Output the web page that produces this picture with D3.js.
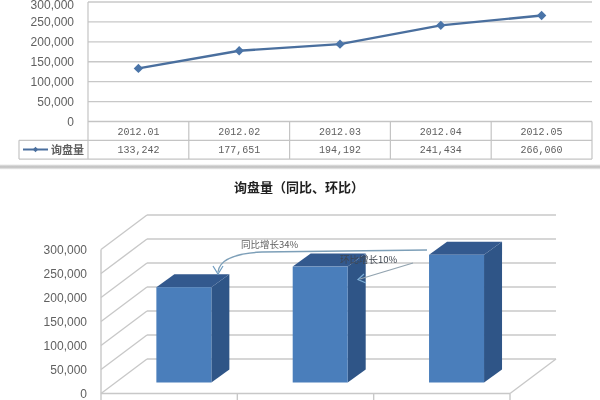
<!DOCTYPE html>
<html>
<head>
<meta charset="utf-8">
<script src="https://cdn.jsdelivr.net/npm/d3@7"></script>
<style>
html, body { margin: 0; padding: 0; background: #fff; }
svg { display: block; filter: blur(0.5px); }
text { fill: #606060; font-family: "Liberation Sans", sans-serif; }
</style>
</head>
<body>
<script>
const months = ["2012.01", "2012.02", "2012.03", "2012.04", "2012.05"];
const inquiries = [133242, 177651, 194192, 241434, 266060];
const tableValues = ["133,242", "177,651", "194,192", "241,434", "266,060"];
const seriesName = "询盘量";
const yTicks = [0, 50000, 100000, 150000, 200000, 250000, 300000];

const chartTitle = "询盘量（同比、环比）";
const barSlots = ["去年同期", "上月", "本月"];
const barValues = [198552, 241434, 266060];
const yoyNote = "同比增长34%";
const momNote = "环比增长10%";

const gridColor = "#c8c8c8";
const tableColor = "#c4c4c4";
const fmt = d3.format(",");

const svg = d3.select("body").append("svg")
    .attr("width", 600)
    .attr("height", 400);

// upper line chart with its data table
const lineX = d3.scaleBand().domain(months).range([88, 592]);
const lineY = d3.scaleLinear().domain([0, 300000]).range([121.5, 2]);
const rowH = 18.8;

const upper = svg.append("g");

upper.selectAll(".grid")
    .data(yTicks)
    .join("line")
    .attr("x1", 88)
    .attr("x2", 592)
    .attr("y1", d => lineY(d))
    .attr("y2", d => lineY(d))
    .attr("stroke", gridColor)
    .attr("stroke-width", 1.4);

// the top label sits against the page edge, keep it inside
upper.selectAll(".ylab")
    .data(yTicks)
    .join("text")
    .attr("x", 74)
    .attr("y", d => Math.max(lineY(d) + 4.5, 9))
    .attr("text-anchor", "end")
    .attr("font-size", 12)
    .text(d => fmt(d));

// table lines
const rowLines = [0, 1, 2];
upper.append("g").selectAll("line")
    .data(rowLines)
    .join("line")
    .attr("x1", d => d == 0 ? 88 : 19)
    .attr("x2", 592)
    .attr("y1", d => lineY(0) + d * rowH)
    .attr("y2", d => lineY(0) + d * rowH)
    .attr("stroke", tableColor)
    .attr("stroke-width", 1.2);

const colEdges = months.map(m => lineX(m)).concat([lineX.range()[1]]);
upper.append("g").selectAll("line")
    .data(colEdges)
    .join("line")
    .attr("x1", d => d)
    .attr("x2", d => d)
    .attr("y1", (d, i) => i == 0 ? lineY(300000) : lineY(0))
    .attr("y2", lineY(0) + 2 * rowH)
    .attr("stroke", tableColor)
    .attr("stroke-width", 1.2);

upper.append("line")
    .attr("x1", 19)
    .attr("x2", 19)
    .attr("y1", lineY(0) + rowH)
    .attr("y2", lineY(0) + 2 * rowH)
    .attr("stroke", tableColor)
    .attr("stroke-width", 1.2);

upper.append("g").selectAll("text")
    .data(months)
    .join("text")
    .attr("x", d => lineX(d) + lineX.bandwidth() / 2)
    .attr("y", lineY(0) + 13)
    .attr("text-anchor", "middle")
    .style("font-family", "Liberation Mono")
    .attr("font-size", 10)
    .text(d => d);

upper.append("g").selectAll("text")
    .data(tableValues)
    .join("text")
    .attr("x", (d, i) => lineX(months[i]) + lineX.bandwidth() / 2)
    .attr("y", lineY(0) + rowH + 13)
    .attr("text-anchor", "middle")
    .style("font-family", "Liberation Mono")
    .attr("font-size", 10)
    .text(d => d);

// legend key in the table
upper.append("line")
    .attr("x1", 23)
    .attr("x2", 48)
    .attr("y1", 149.5)
    .attr("y2", 149.5)
    .attr("stroke", "#4a6f9e")
    .attr("stroke-width", 2);

const diamond = d3.symbol().type(d3.symbolSquare);

upper.append("path")
    .attr("d", diamond.size(14)())
    .attr("transform", "translate(35.5,149.5) rotate(45)")
    .attr("fill", "#4a6f9e");

upper.append("text")
    .attr("x", 51)
    .attr("y", 154)
    .style("font-family", "Noto Sans CJK SC")
    .attr("font-size", 11)
    .attr("font-weight", "bold")
    .text(seriesName);

const line = d3.line()
    .x((d, i) => lineX(months[i]) + lineX.bandwidth() / 2)
    .y(d => lineY(d));

upper.append("path")
    .attr("d", line(inquiries))
    .attr("fill", "none")
    .attr("stroke", "#4a6f9e")
    .attr("stroke-width", 2.4);

upper.append("g").selectAll("path")
    .data(inquiries)
    .join("path")
    .attr("d", diamond.size(44)())
    .attr("transform", (d, i) => "translate(" + (lineX(months[i]) + lineX.bandwidth() / 2) + "," + lineY(d) + ") rotate(45)")
    .attr("fill", "#4a74a8");

// grey divider between the two screenshots
const grad = svg.append("defs").append("linearGradient")
    .attr("id", "divider")
    .attr("x1", 0).attr("x2", 0).attr("y1", 0).attr("y2", 1);
grad.append("stop").attr("offset", 0).attr("stop-color", "#e8e8e8");
grad.append("stop").attr("offset", 0.5).attr("stop-color", "#bdbdbd");
grad.append("stop").attr("offset", 1).attr("stop-color", "#f4f4f4");

svg.append("rect")
    .attr("x", 0)
    .attr("y", 164.5)
    .attr("width", 600)
    .attr("height", 5)
    .attr("fill", "url(#divider)");

svg.append("text")
    .attr("x", 299)
    .attr("y", 192)
    .attr("text-anchor", "middle")
    .style("font-family", "Noto Sans CJK SC")
    .attr("font-size", 13)
    .attr("font-weight", "bold")
    .style("fill", "#222")
    .text(chartTitle);

// lower pseudo 3d bar chart
const barX = d3.scaleBand().domain(barSlots).range([101, 510]);
const barY = d3.scaleLinear().domain([0, 300000]).range([393.5, 249.5]);
const wallDx = 46;
const wallDy = -34.5;
const offX = 14.7;
const offY = -11;
const barW = 55;
const depthX = 18;
const depthY = -13;

const lower = svg.append("g");

lower.append("g").selectAll("line")
    .data(yTicks)
    .join("line")
    .attr("x1", barX.range()[0] + wallDx)
    .attr("x2", barX.range()[1] + wallDx)
    .attr("y1", d => barY(d) + wallDy)
    .attr("y2", d => barY(d) + wallDy)
    .attr("stroke", gridColor)
    .attr("stroke-width", 1.6);

lower.append("g").selectAll("line")
    .data(yTicks)
    .join("line")
    .attr("x1", barX.range()[0])
    .attr("x2", barX.range()[0] + wallDx)
    .attr("y1", d => barY(d))
    .attr("y2", d => barY(d) + wallDy)
    .attr("stroke", gridColor)
    .attr("stroke-width", 1.4);

lower.append("line")
    .attr("x1", barX.range()[1])
    .attr("x2", barX.range()[1] + wallDx)
    .attr("y1", barY(0))
    .attr("y2", barY(0) + wallDy)
    .attr("stroke", gridColor)
    .attr("stroke-width", 1.4);

lower.append("line")
    .attr("x1", barX.range()[0])
    .attr("x2", barX.range()[0])
    .attr("y1", barY(300000))
    .attr("y2", 400)
    .attr("stroke", gridColor)
    .attr("stroke-width", 1.4);

lower.append("line")
    .attr("x1", barX.range()[0])
    .attr("x2", barX.range()[1])
    .attr("y1", barY(0))
    .attr("y2", barY(0))
    .attr("stroke", gridColor)
    .attr("stroke-width", 1.6);

lower.append("g").selectAll("line")
    .data(barSlots)
    .join("line")
    .attr("x1", d => barX(d) + barX.bandwidth())
    .attr("x2", d => barX(d) + barX.bandwidth())
    .attr("y1", barY(0))
    .attr("y2", 400)
    .attr("stroke", gridColor)
    .attr("stroke-width", 1.4);

lower.append("g").selectAll("text")
    .data(yTicks)
    .join("text")
    .attr("x", 87)
    .attr("y", d => barY(d) + 4.5)
    .attr("text-anchor", "end")
    .attr("font-size", 12)
    .text(d => fmt(d));

const bx = d => barX(d) + (barX.bandwidth() - barW) / 2 + offX;
const by = v => barY(v) + offY;
const by0 = barY(0) + offY;

const bars = lower.append("g").selectAll("g")
    .data(barValues)
    .join("g");

bars.append("path")
    .attr("d", (d, i) => {
        const x = bx(barSlots[i]) + barW;
        return d3.line()([[x, by(d)], [x + depthX, by(d) + depthY], [x + depthX, by0 + depthY], [x, by0]]) + "Z";
    })
    .attr("fill", "#2f5587");

bars.append("path")
    .attr("d", (d, i) => {
        const x = bx(barSlots[i]);
        return d3.line()([[x, by(d)], [x + depthX, by(d) + depthY], [x + barW + depthX, by(d) + depthY], [x + barW, by(d)]]) + "Z";
    })
    .attr("fill", "#33598e");

bars.append("rect")
    .attr("x", (d, i) => bx(barSlots[i]))
    .attr("y", d => by(d))
    .attr("width", barW)
    .attr("height", d => by0 - by(d))
    .attr("fill", "#4a7ebb");

// callouts
lower.append("path")
    .attr("d", "M427,250 L262,252 Q220,254 218,272")
    .attr("fill", "none")
    .attr("stroke", "#7d9fb8")
    .attr("stroke-width", 1.3);

lower.append("path")
    .attr("d", "M213,266 L218,274 L223,266")
    .attr("fill", "none")
    .attr("stroke", "#6f9cc0")
    .attr("stroke-width", 1.2);

lower.append("line")
    .attr("x1", 413)
    .attr("y1", 263)
    .attr("x2", 360)
    .attr("y2", 279)
    .attr("stroke", "#93a4b0")
    .attr("stroke-width", 1.3);

lower.append("path")
    .attr("d", "M364,274 L358,279.5 L366,283")
    .attr("fill", "none")
    .attr("stroke", "#7fb0d8")
    .attr("stroke-width", 1.2);

lower.append("text")
    .attr("x", 241)
    .attr("y", 248)
    .style("font-family", "Noto Sans CJK SC")
    .attr("font-size", 9.5)
    .text(yoyNote);

lower.append("text")
    .attr("x", 340)
    .attr("y", 263)
    .style("font-family", "Noto Sans CJK SC")
    .attr("font-size", 9.5)
    .style("fill", "#3f4650")
    .text(momNote);
</script>
</body>
</html>
